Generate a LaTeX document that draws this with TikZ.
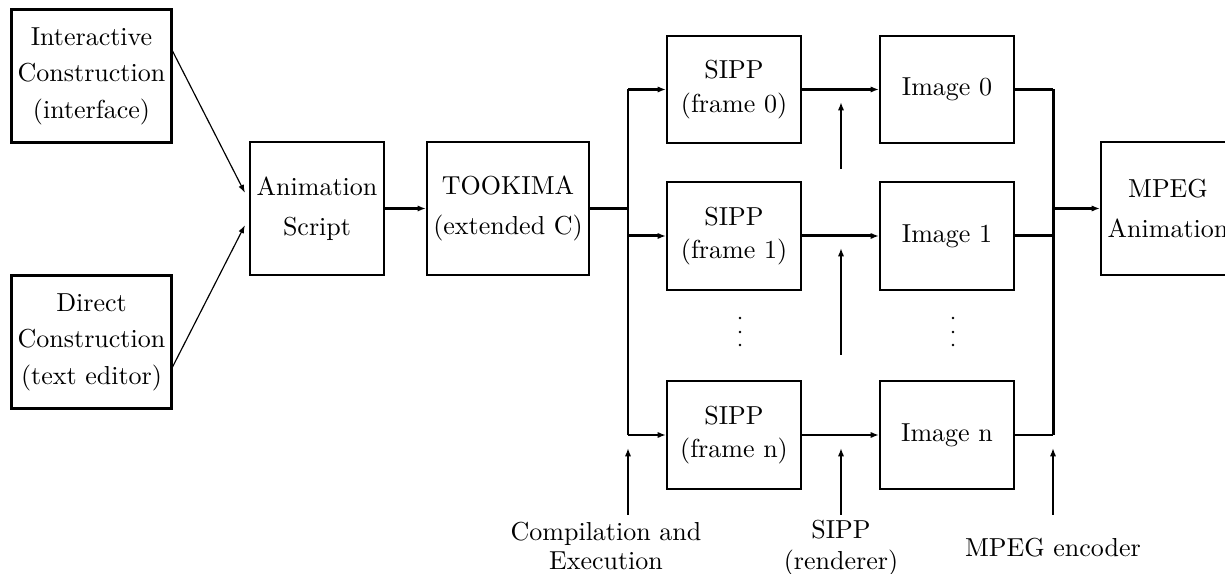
\documentclass[tikz,border=0pt]{standalone}
\usetikzlibrary{arrows.meta}
\begin{document}
\begin{tikzpicture}[x=0.3846pt,y=-0.3846pt,
  box/.style={draw,line width=0.8pt,align=center,inner sep=0pt,font=\fontsize{10}{12}\selectfont},
  bigbox/.style={box,line width=1.15pt,minimum width=61.9pt,minimum height=51.5pt},
  midbox/.style={box,minimum width=51.5pt,minimum height=51.2pt},
  wbox/.style={box,minimum width=62.3pt,minimum height=51.2pt},
  smallbox/.style={box,minimum width=51.5pt,minimum height=41.2pt},
  conn/.style={line width=0.8pt,-{Latex[length=3.2pt,width=2.4pt]}},
  thickconn/.style={line width=1.15pt,-{Latex[length=3.2pt,width=2.4pt]}},
  bus/.style={line width=0.8pt},
  thickbus/.style={line width=1.15pt},
  thin/.style={line width=0.45pt,-{Latex[length=3.2pt,width=2.2pt]}},
  dot/.style={fill=black},
  lab/.style={align=center,inner sep=0pt,font=\fontsize{10}{12}\selectfont}]
\useasboundingbox (0,0) rectangle (1225,574);
% boxes
\node[bigbox] (inter) at (91.5,76) {Interactive\\[2pt]Construction\\[2pt](interface)};
\node[bigbox] (direct) at (91.5,342) {Direct\\[2pt]Construction\\[2pt](text editor)};
\node[midbox] (anim) at (317,208.5) {Animation\\[3.5pt]Script};
\node[wbox] (took) at (508,208.5) {TOOKIMA\\[3.5pt](extended C)};
\node[smallbox] (s0) at (734,89.5) {SIPP\\[1pt](frame 0)};
\node[smallbox] (s1) at (734,236) {SIPP\\[1pt](frame 1)};
\node[smallbox] (sn) at (734,435) {SIPP\\[1pt](frame n)};
\node[smallbox] (i0) at (947,89.5) {Image 0};
\node[smallbox] (i1) at (947,236) {Image 1};
\node[smallbox] (in) at (947,435) {Image n};
\node[midbox] (mpeg) at (1168,208.5) {MPEG\\[3.5pt]Animation};
% dots
\foreach \yy in {318,332,345} {
  \fill[dot] (740,\yy) circle[radius=1.4];
  \fill[dot] (953,\yy) circle[radius=1.4];
}
% labels
\node[lab] (comp) at (606,546) {Compilation and\\[-1pt]Execution};
\node[lab] (rend) at (841,548) {SIPP\\(renderer)};
\node[lab] (enc) at (1053,548) {MPEG encoder};
% coordinates
\coordinate (ia) at (172,50);
\coordinate (ib) at (245,193);
\coordinate (da) at (172,368);
\coordinate (db) at (245,225);
\coordinate (lt) at (628,89.5);
\coordinate (lm) at (628,208.5);
\coordinate (lb) at (628,435);
\coordinate (rt) at (1053,89.5);
\coordinate (rm) at (1053,208.5);
\coordinate (rb) at (1053,435);
\coordinate (u1a) at (841,169);
\coordinate (u1b) at (841,102);
\coordinate (u2a) at (841,355);
\coordinate (u2b) at (841,248);
\coordinate (u3a) at (628,515);
\coordinate (u3b) at (628,448);
\coordinate (u4a) at (841,515);
\coordinate (u4b) at (841,448);
\coordinate (u5a) at (1053,515);
\coordinate (u5b) at (1053,448);
% connectors
\draw[thin] (ia) -- (ib);
\draw[thin] (da) -- (db);
\draw[conn] (anim) -- (took);
\draw[bus] (took.east) -- (lm);
\draw[bus] (lt) -- (lb);
\draw[thickconn] (lt) -- (s0.west);
\draw[thickconn] (lt |- s1.west) -- (s1.west);
\draw[conn] (lb) -- (sn.west);
\draw[thickconn] (s0) -- (i0);
\draw[thickconn] (s1) -- (i1);
\draw[conn] (sn) -- (in);
\draw[thickbus] (i0.east) -- (rt);
\draw[thickbus] (i1.east) -- (rt |- i1.east);
\draw[bus] (in.east) -- (rb);
\draw[thickbus] (rt) -- (rb);
\draw[conn] (rm) -- (mpeg.west);
\draw[conn] (u1a) -- (u1b);
\draw[conn] (u2a) -- (u2b);
\draw[conn] (u3a) -- (u3b);
\draw[conn] (u4a) -- (u4b);
\draw[conn] (u5a) -- (u5b);
\end{tikzpicture}
\end{document}
